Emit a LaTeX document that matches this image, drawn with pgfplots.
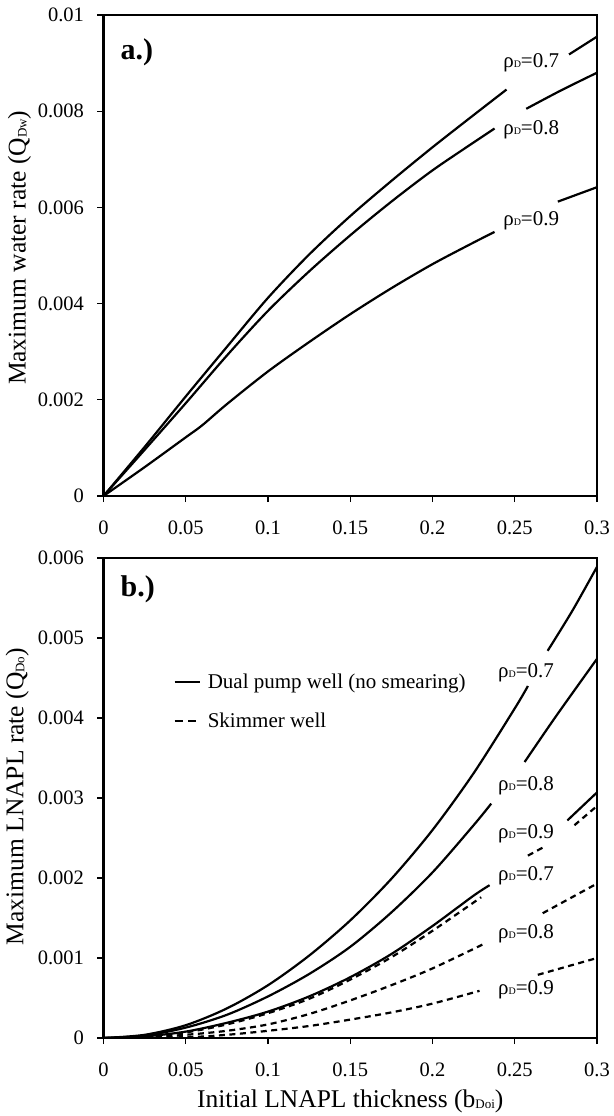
\documentclass[border=0pt]{standalone}
\usepackage{fontspec}
\setmainfont{Liberation Serif}
\usepackage{pgfplots}
\pgfplotsset{compat=1.18}
\newcommand{\rhoD}[1]{ρ\raisebox{0pt}{\fontsize{10}{10}\selectfont D}=#1}
\newcommand{\lsub}[1]{\raisebox{-1pt}{\fontsize{13}{13}\selectfont #1}}
\tikzset{
  dsh/.style={dash pattern=on 6pt off 4.5pt},
  lab/.style={anchor=base west, inner sep=0pt, font=\fontsize{21}{24}\selectfont},
}
\pgfplotsset{
  myax/.style={
    scale only axis, width=493.5pt,
    xmin=0, xmax=0.3,
    xtick={0,0.05,0.1,0.15,0.2,0.25,0.3},
    xtick pos=left, ytick pos=left,
    tick align=outside, major tick length=6pt,
    tick style={line width=1.2pt, black},
    axis line style={line width=2.4pt},
    scaled ticks=false,
    tick label style={font=\fontsize{20.5}{24}\selectfont},
    xticklabel style={yshift=-15pt},
    yticklabel style={xshift=-10pt},
    /pgf/number format/fixed,
    /pgf/number format/precision=3,
    /pgf/number format/assume math mode=true,
    label style={font=\fontsize{25.5}{30}\selectfont},
    every axis plot/.append style={line width=2.2pt, black},
  },
}
\begin{document}
\begin{tikzpicture}
\useasboundingbox (0,0) rectangle (613pt,-1116pt);
% ---------- panel a
\begin{axis}[myax, height=481pt,
  at={(103.5pt,-496pt)}, anchor=south west,
  ymin=0, ymax=0.01,
  ytick={0,0.002,0.004,0.006,0.008,0.01},
  ylabel={Maximum water rate (Q\lsub{Dw})},
  ylabel style={at={(axis description cs:-0.170,0.516)}, anchor=center},
  unbounded coords=jump,
]
\addplot[smooth] coordinates {(0,0)(0.025,0.00102)(0.05,0.00207)(0.075,0.0031)(0.1,0.00412)(0.125,0.00502)(0.15,0.00582)(0.175,0.00655)(0.2,0.00725)(0.225,0.00792)(0.245,0.00845)(0.265,nan)(0.283,0.00918)(0.3,0.00955)};
\addplot[smooth] coordinates {(0,0)(0.025,0.00096)(0.05,0.00193)(0.075,0.00292)(0.1,0.00385)(0.125,0.00467)(0.15,0.00542)(0.175,0.00612)(0.2,0.00677)(0.225,0.00735)(0.2377,0.00764)(0.246,nan)(0.257,0.00805)(0.278,0.00843)(0.3,0.0088)};
\addplot[smooth] coordinates {(0,0)(0.025,0.0006)(0.05,0.00122)(0.06,0.00147)(0.075,0.00191)(0.1,0.00259)(0.125,0.0032)(0.15,0.00378)(0.175,0.00432)(0.2,0.00482)(0.225,0.00527)(0.2377,0.00549)(0.256,nan)(0.2762,0.00612)(0.3,0.00642)};
\node[anchor=base west, inner sep=0pt, font=\bfseries\fontsize{30}{34}\selectfont] at (axis cs:0.0103,0.00908) {a.)};
\node[lab] at (axis cs:0.2429,0.0089) {\rhoD{0.7}};
\node[lab] at (axis cs:0.2429,0.00752) {\rhoD{0.8}};
\node[lab] at (axis cs:0.2429,0.00562) {\rhoD{0.9}};
\end{axis}
% ---------- panel b
\begin{axis}[myax, height=480pt,
  at={(103.5pt,-1038pt)}, anchor=south west,
  ymin=0, ymax=0.006,
  ytick={0,0.001,0.002,0.003,0.004,0.005,0.006},
  ylabel={Maximum LNAPL rate (Q\lsub{Do})},
  ylabel style={at={(axis description cs:-0.175,0.503)}, anchor=center},
  xlabel={Initial LNAPL thickness (b\lsub{Doi})},
  xlabel style={at={(axis description cs:0.5,-0.131)}, anchor=center},
  unbounded coords=jump,
  legend style={draw=none, fill=none, at={(axis cs:0.0425,0.004204)}, anchor=west,
    inner sep=0pt, row sep=19pt, font=\fontsize{21}{24}\selectfont,
    /tikz/every odd column/.append style={column sep=5pt}},
  legend cell align=left,
  legend image code/.code={\draw[#1, line width=2.2pt] (0pt,0pt) -- (25pt,0pt);},
]
\addplot[smooth] coordinates {(0,0)(0.025,0.00004)(0.05,0.00016)(0.075,0.00037)(0.1,0.00066)(0.125,0.00103)(0.15,0.00147)(0.175,0.00199)(0.2,0.0026)(0.225,0.00331)(0.25,0.00412)(0.258,0.0044)(0.264,nan)(0.27,0.00484)(0.285,0.00534)(0.3,0.00589)};
\addlegendentry{Dual pump well (no smearing)}
\addplot[dsh, smooth, legend image code/.code={\draw[line width=2.2pt, dash pattern=on 8.3pt off 5pt] (0pt,0pt) -- (21.6pt,0pt);}] coordinates {(0,0)(0.025,0.00002)(0.05,0.00007)(0.075,0.00017)(0.1,0.00031)(0.125,0.00049)(0.15,0.00073)(0.175,0.00101)(0.2,0.00134)(0.2296,0.00176)(0.244,nan)(0.258,0.00228)(0.267,0.00238)(0.276,nan)(0.2863,0.00266)(0.3,0.0029)};
\addlegendentry{Skimmer well}
\addplot[smooth, forget plot] coordinates {(0,0)(0.025,0.00003)(0.05,0.00013)(0.075,0.00029)(0.1,0.00052)(0.125,0.0008)(0.15,0.00114)(0.175,0.00157)(0.2,0.00207)(0.225,0.00266)(0.2357,0.00293)(0.246,nan)(0.256,0.00345)(0.275,0.00402)(0.3,0.00474)};
\addplot[smooth, forget plot] coordinates {(0,0)(0.025,0.00002)(0.05,0.00008)(0.075,0.00019)(0.1,0.00033)(0.125,0.00052)(0.15,0.00076)(0.175,0.00105)(0.2,0.0014)(0.225,0.00178)(0.2347,0.00191)(0.258,nan)(0.282,0.00272)(0.3,0.00307)};
\addplot[dsh, smooth, forget plot] coordinates {(0,0)(0.025,0.00001)(0.05,0.00004)(0.075,0.00009)(0.1,0.00017)(0.125,0.0003)(0.15,0.00047)(0.175,0.00066)(0.2,0.00087)(0.2316,0.00118)(0.25,nan)(0.267,0.00156)(0.3,0.00193)};
\addplot[dsh, smooth, forget plot] coordinates {(0,0)(0.05,0.00001)(0.075,0.00004)(0.1,0.00009)(0.125,0.00015)(0.15,0.00023)(0.175,0.00032)(0.2,0.00043)(0.2286,0.00059)(0.246,nan)(0.264,0.00079)(0.3,0.001)};
\node[anchor=base west, inner sep=0pt, font=\bfseries\fontsize{30}{34}\selectfont] at (axis cs:0.0103,0.005515) {b.)};
\node[lab] at (axis cs:0.2398,0.00451) {\rhoD{0.7}};
\node[lab] at (axis cs:0.2398,0.00309) {\rhoD{0.8}};
\node[lab] at (axis cs:0.2398,0.00249) {\rhoD{0.9}};
\node[lab] at (axis cs:0.2398,0.00197) {\rhoD{0.7}};
\node[lab] at (axis cs:0.2398,0.00124) {\rhoD{0.8}};
\node[lab] at (axis cs:0.2398,0.00055) {\rhoD{0.9}};
\end{axis}
\end{tikzpicture}
\end{document}
